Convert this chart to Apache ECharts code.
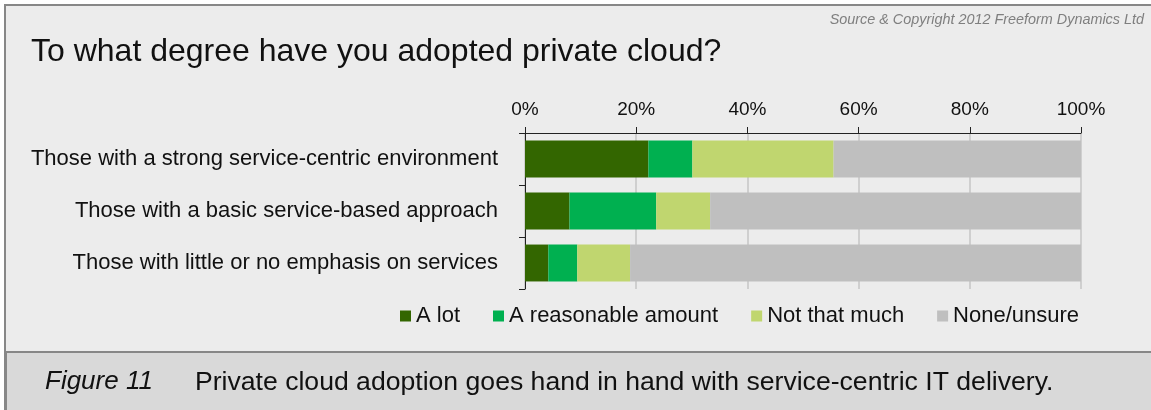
<!DOCTYPE html>
<html>
<head>
<meta charset="utf-8">
<script src="https://cdn.jsdelivr.net/npm/echarts@6/dist/echarts.min.js"></script>
<style>
  html, body { margin: 0; padding: 0; background: #ffffff; }
  #chart { width: 1151px; height: 410px; }
</style>
</head>
<body>
<div id="chart"></div>
<script>
// Survey groups, top to bottom
const categories = [
  'Those with a strong service-centric environment',
  'Those with a basic service-based approach',
  'Those with little or no emphasis on services'
];
// Share of respondents (%) per answer, same order as categories
const aLot = [22.2, 8.0, 4.2];
const reasonable = [7.9, 15.6, 5.2];
const notThatMuch = [25.4, 9.7, 9.5];
const noneUnsure = [44.5, 66.7, 81.1];
const seriesNames = ['A lot', 'A reasonable amount', 'Not that much', 'None/unsure'];
const tickLabels = ['0%', '20%', '40%', '60%', '80%', '100%'];

const FONT = 'Liberation Sans, Arial, sans-serif';
const chart = echarts.init(document.getElementById('chart'));

const colors = ['#336600', '#00b050', '#c0d66f', '#bfbfbf'];
const values = [aLot, reasonable, notThatMuch, noneUnsure];

chart.setOption({
  animation: false,
  textStyle: { fontFamily: FONT },
  graphic: [
    // panel background and frame
    { type: 'rect', z: -10, shape: { x: 5, y: 5, width: 1150, height: 410 },
      style: { fill: '#ececec', stroke: '#878787', lineWidth: 2 } },
    // caption band
    { type: 'rect', z: -9, shape: { x: 6, y: 352, width: 1150, height: 60 },
      style: { fill: '#d9d9d9', stroke: '#878787', lineWidth: 2 } },
    { type: 'text', left: 45, top: 369,
      style: { text: 'Figure 11', font: 'italic 26px ' + FONT, fill: '#111' } },
    { type: 'text', left: 195, top: 369,
      style: { text: 'Private cloud adoption goes hand in hand with service-centric IT delivery.',
               font: '26.6px ' + FONT, fill: '#111' } },
    { type: 'text', right: 7, top: 13,
      style: { text: 'Source & Copyright 2012 Freeform Dynamics Ltd',
               font: 'italic 14.4px ' + FONT, fill: '#7f7f7f' } }
  ],
  title: {
    text: 'To what degree have you adopted private cloud?',
    left: 26, top: 31,
    textStyle: { fontFamily: FONT, fontSize: 32, fontWeight: 'normal', color: '#111' }
  },
  legend: {
    data: seriesNames,
    left: 395, top: 300,
    icon: 'rect', itemWidth: 11, itemHeight: 11, itemGap: 33,
    textStyle: { fontFamily: FONT, fontSize: 22, color: '#111' }
  },
  grid: { left: 525, right: 70, top: 133, height: 156 },
  xAxis: {
    type: 'value', position: 'top', min: 0, max: 100, interval: 20,
    axisLine: { show: true, lineStyle: { color: '#222', width: 1 } },
    axisTick: { show: true, length: 6, lineStyle: { color: '#222' } },
    axisLabel: { fontFamily: FONT, fontSize: 19, color: '#111', margin: 14,
                 formatter: v => tickLabels[v / 20] },
    splitLine: { show: true, lineStyle: { color: '#cfcfcf', width: 2 } }
  },
  yAxis: {
    type: 'category', inverse: true, data: categories,
    axisLine: { show: true, lineStyle: { color: '#222', width: 1 } },
    axisTick: { show: true, length: 6, lineStyle: { color: '#222' } },
    axisLabel: { fontFamily: FONT, fontSize: 22, color: '#111', margin: 27 }
  },
  series: seriesNames.map((name, i) => ({
    name, type: 'bar', stack: 'total', data: values[i],
    barCategoryGap: '29%',
    itemStyle: { color: colors[i] }
  }))
});
</script>
</body>
</html>
